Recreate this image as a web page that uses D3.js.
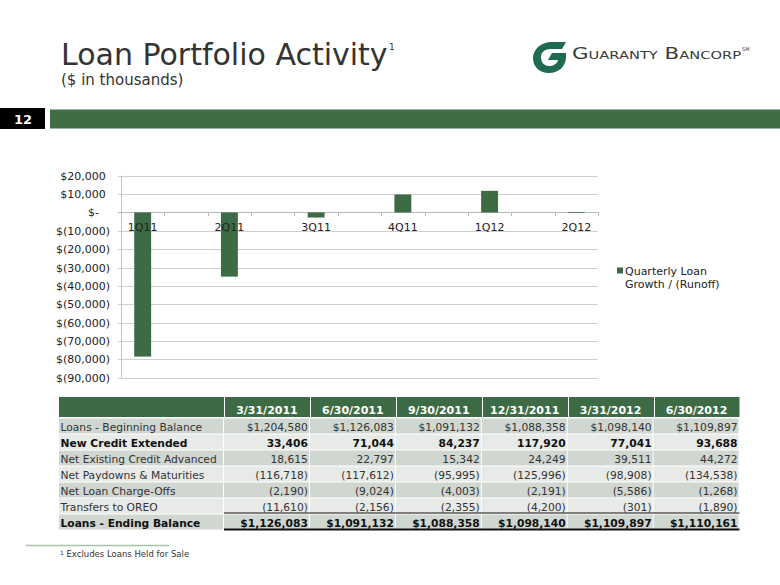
<!DOCTYPE html>
<html>
<head>
<meta charset="utf-8">
<script src="https://cdn.jsdelivr.net/npm/d3@7/dist/d3.min.js"></script>
<style>
html,body{margin:0;padding:0;background:#fff;}
svg{display:block;}
text{font-family:"DejaVu Sans",Verdana,sans-serif;}
</style>
</head>
<body>
<svg id="c" width="780" height="585"></svg>
<script>
// ---------- data ----------
const categories = ["1Q11","2Q11","3Q11","4Q11","1Q12","2Q12"];
const growth = [-78497,-34951,-2774,9782,11757,264];
const yTicks = [20000,10000,0,-10000,-20000,-30000,-40000,-50000,-60000,-70000,-80000,-90000];
const legendLines = ["Quarterly Loan","Growth / (Runoff)"];

const dates = ["3/31/2011","6/30/2011","9/30/2011","12/31/2011","3/31/2012","6/30/2012"];
const rowLabels = ["Loans - Beginning Balance","New Credit Extended","Net Existing Credit Advanced",
  "Net Paydowns & Maturities","Net Loan Charge-Offs","Transfers to OREO","Loans - Ending Balance"];
const beginBal   = [1204580,1126083,1091132,1088358,1098140,1109897];
const newCredit  = [33406,71044,84237,117920,77041,93688];
const netExisting= [18615,22797,15342,24249,39511,44272];
const paydowns   = [-116718,-117612,-95995,-125996,-98908,-134538];
const chargeOffs = [-2190,-9024,-4003,-2191,-5586,-1268];
const oreo       = [-11610,-2156,-2355,-4200,-301,-1890];
const endBal     = [1126083,1091132,1088358,1098140,1109897,1110161];

// ---------- setup ----------
const svg = d3.select("#c");
const GREEN = "#3d6b45";
const TXT = "#333";

// Title
svg.append("text").attr("x",61).attr("y",64.5).attr("font-size",30).attr("fill",TXT)
  .text("Loan Portfolio Activity");
svg.append("text").attr("x",389).attr("y",50).attr("font-size",9).attr("fill",TXT).text("1");
svg.append("text").attr("x",61).attr("y",85).attr("font-size",15).attr("fill",TXT)
  .text("($ in thousands)");

// Logo
const logo = svg.append("g");
logo.append("path")
  .attr("d","M566,42 L552,42 C540,42 533,50 533,58 C533,67 540,73 549,73 C559,73 566,66 566,57 L566,53 L552,53 L548,60 L558,60 C557,64 553,66 549,66 C544,66 541,62 541,57 C541,52 545,49 551,49 L562,49 Z")
  .attr("fill","#1f6b4f");
logo.append("text").attr("x",572).attr("y",58.5).attr("font-size",16)
  .attr("font-family","'Liberation Serif','DejaVu Serif',serif")
  .attr("font-variant","small-caps").attr("fill","#3a3a3a")
  .attr("textLength",169).attr("lengthAdjust","spacingAndGlyphs")
  .text("Guaranty Bancorp");
logo.append("text").attr("x",742).attr("y",51).attr("font-size",5)
  .attr("font-family","'Liberation Serif',serif").attr("fill","#3a3a3a").text("SM");

// Page number and bar
svg.append("rect").attr("x",0).attr("y",108).attr("width",45).attr("height",21).attr("fill","#000");
svg.append("text").attr("x",23).attr("y",123.5).attr("text-anchor","middle").attr("font-size",13)
  .attr("font-weight","bold").attr("font-family","'Liberation Sans',Arial,sans-serif")
  .attr("fill","#fff").text("12");
svg.append("rect").attr("x",50).attr("y",109.5).attr("width",730).attr("height",19).attr("fill","#3e6d46");

// ---------- chart ----------
const plotL = 121, plotR = 598, plotT = 175.7, plotB = 377.7;
const y = d3.scaleLinear().domain([20000,-90000]).range([plotT,plotB]);
const slots = [];
categories.forEach((c,i)=>{ slots.push(c); if(i<categories.length-1) slots.push("gap"+i); });
const x = d3.scaleBand().domain(slots).range([plotL,plotR]).padding(0);

const chart = svg.append("g");
// gridlines
chart.selectAll("line.grid").data(yTicks).enter().append("line")
  .attr("x1",plotL-3).attr("x2",plotR)
  .attr("y1",d=>Math.round(y(d))+0.5).attr("y2",d=>Math.round(y(d))+0.5)
  .attr("stroke",d=>d===0?"#b8b8b8":"#cfcfcf").attr("stroke-width",1);
// y axis line
chart.append("line").attr("x1",plotL+0.5).attr("x2",plotL+0.5)
  .attr("y1",plotT).attr("y2",plotB).attr("stroke","#c4c4c4");

// y axis labels via d3 axis
const fmtN = d3.format(",");
const yAxis = d3.axisLeft(y).tickValues(yTicks).tickSize(0).tickPadding(11)
  .tickFormat(d => d===0 ? "$-" : (d>0 ? "$"+fmtN(d) : "$("+fmtN(-d)+")"));
const ya = chart.append("g").attr("transform",`translate(${plotL},0)`).call(yAxis);
ya.select(".domain").remove();
ya.selectAll("text").attr("font-size",11).attr("font-family","'DejaVu Sans',Verdana,sans-serif")
  .attr("fill","#222")
  .attr("dx",d=> d===0 ? -11 : (d>0 ? -4.3 : 0));

// x ticks at slot boundaries
const bounds = slots.map(s=>x(s)).concat([plotR]);
chart.selectAll("line.xt").data(bounds).enter().append("line")
  .attr("x1",d=>Math.round(d)+0.5).attr("x2",d=>Math.round(d)+0.5)
  .attr("y1",Math.round(y(0))).attr("y2",Math.round(y(0))+4)
  .attr("stroke","#b8b8b8");

// bars
const barW = x.bandwidth()*0.39;
chart.selectAll("rect.bar").data(categories).enter().append("rect")
  .attr("x",(d)=>x(d)+x.bandwidth()/2-barW/2)
  .attr("width",barW)
  .attr("y",(d,i)=>y(Math.max(0,growth[i])))
  .attr("height",(d,i)=>Math.max(0.8,Math.abs(y(growth[i])-y(0))))
  .attr("fill",GREEN);

// category labels
const xAxis = d3.axisBottom(x).tickValues(categories).tickSize(0).tickPadding(0);
const xa = chart.append("g").attr("transform",`translate(0,${y(0)})`).call(xAxis);
xa.select(".domain").remove();
xa.selectAll("text").attr("font-size",11).attr("font-family","'DejaVu Sans',Verdana,sans-serif")
  .attr("fill","#222").attr("dy",null).attr("y",18.5);

// legend
svg.append("rect").attr("x",617).attr("y",267.5).attr("width",6).attr("height",6).attr("fill",GREEN);
svg.append("g").selectAll("text").data(legendLines).enter().append("text")
  .attr("x",625).attr("y",(d,i)=>274.5+i*13).attr("font-size",11).attr("fill","#222").text(d=>d);

// ---------- table ----------
const rows = [beginBal,newCredit,netExisting,paydowns,chargeOffs,oreo,endBal];
const boldRows = [1,6];
const tabL = 59, labR = 224;
const FS = 10.7;
const col = d3.scaleBand().domain(dates).range([labR,739.5]);
const row = d3.scaleBand().domain(rowLabels).range([418.5,530.5]);
const tbl = svg.append("g");
// header
tbl.append("rect").attr("x",tabL).attr("y",397).attr("width",739.5-tabL).attr("height",20).attr("fill",GREEN);
tbl.selectAll("line.hsep").data(dates).enter().append("line")
  .attr("x1",d=>Math.round(col(d))+0.5).attr("x2",d=>Math.round(col(d))+0.5)
  .attr("y1",397).attr("y2",417).attr("stroke","#fff");
tbl.selectAll("text.hd").data(dates).enter().append("text")
  .attr("x",d=>col(d)+col.bandwidth()/2).attr("y",414).attr("text-anchor","middle")
  .attr("font-size",11).attr("font-weight","bold").attr("fill","#fff").text(d=>d);

const fmtVal = (v,ri) => {
  const s = fmtN(Math.abs(v));
  if (v<0) return "("+s+")";
  return (ri===0||ri===6) ? "$"+s : s;
};
rowLabels.forEach((lab,ri)=>{
  const fill = ri%2===0 ? "#d0d6d0" : "#e7eae7";
  const ry = row(lab), rh = row.bandwidth();
  tbl.append("rect").attr("x",tabL).attr("y",ry).attr("width",labR-tabL-1).attr("height",rh-1).attr("fill",fill);
  dates.forEach((dt)=>{
    tbl.append("rect").attr("x",col(dt)).attr("y",ry).attr("width",col.bandwidth()-1).attr("height",rh-1).attr("fill",fill);
  });
  const bold = boldRows.includes(ri);
  tbl.append("text").attr("x",tabL+1.5).attr("y",ry+rh/2+4).attr("font-size",FS)
    .attr("font-weight",bold?"bold":"normal").attr("fill",bold?"#111":TXT).text(lab);
  tbl.selectAll(null).data(rows[ri]).enter().append("text")
    .attr("x",(v,ci)=>col(dates[ci])+col.bandwidth()-2).attr("y",ry+rh/2+4)
    .attr("text-anchor","end").attr("font-size",FS)
    .attr("font-weight",bold?"bold":"normal").attr("fill",bold?"#111":TXT)
    .text(v=>fmtVal(v,ri));
});
// total lines
tbl.append("line").attr("x1",labR).attr("x2",739.5)
  .attr("y1",row(rowLabels[6])-1.5).attr("y2",row(rowLabels[6])-1.5).attr("stroke","#111").attr("stroke-width",1);
tbl.append("line").attr("x1",labR).attr("x2",739.5)
  .attr("y1",529.5).attr("y2",529.5).attr("stroke","#111").attr("stroke-width",2);

// footnote
svg.append("line").attr("x1",26).attr("x2",169).attr("y1",545.5).attr("y2",545.5)
  .attr("stroke","#a9c3a9").attr("stroke-width",1.5);
svg.append("text").attr("x",60).attr("y",554.5).attr("font-size",6).attr("fill",TXT).text("1");
svg.append("text").attr("x",66.5).attr("y",557).attr("font-size",8.5).attr("fill",TXT)
  .text("Excludes Loans Held for Sale");
</script>
</body>
</html>
